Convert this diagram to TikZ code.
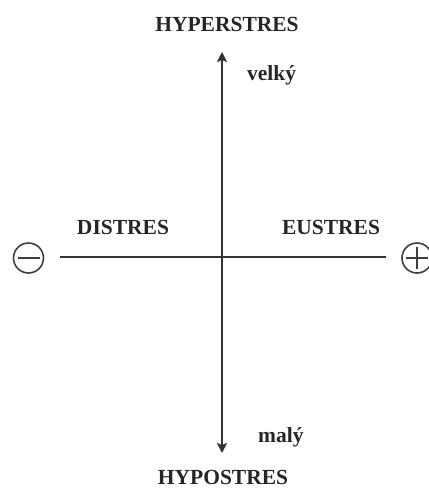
\documentclass[tikz,border=0pt]{standalone}
\usepackage{fontspec}
\setmainfont{Liberation Serif}
\usetikzlibrary{arrows.meta}
\begin{document}
\begin{tikzpicture}[x=1pt,y=-1pt,
  lbl/.style={font=\fontsize{21.5}{24}\selectfont\bfseries, inner sep=0pt, text=black!85},
  axis/.style={draw=black!80, line width=1.6pt},
  tip/.style={-{Stealth[length=10pt,width=10pt,inset=2pt]}},
  sgn/.style={draw=black!75, line width=1.6pt}]
\useasboundingbox (0,0) rectangle (429,488);
\node[lbl] (hyper) at (227,24) {HYPERSTRES};
\node[lbl] (hypo) at (223,477) {HYPOSTRES};
\node[lbl] (dis) at (123,227) {DISTRES};
\node[lbl] (eu) at (331,227) {EUSTRES};
\node[lbl, anchor=base west] (velky) at (247,80) {velký};
\node[lbl, anchor=base west] (maly) at (258,442) {malý};
\coordinate (top) at (222,52);
\coordinate (bot) at (222,453);
\coordinate (left) at (60,257);
\coordinate (right) at (386,257);
\draw[axis, line width=1.4pt, tip] (222,254) -- (top);
\draw[axis, line width=1.4pt, tip] (222,254) -- (bot);
\draw[axis] (left) -- (right);
% minus sign
\node[sgn, circle, minimum size=30pt, inner sep=0pt] (minus) at (28.5,258) {};
\draw[sgn] ([xshift=-11pt]minus.center) -- ([xshift=11pt]minus.center);
% plus sign
\node[sgn, circle, minimum size=30pt, inner sep=0pt] (plus) at (417,258) {};
\draw[sgn] ([xshift=-11pt]plus.center) -- ([xshift=11pt]plus.center);
\draw[sgn] ([yshift=-11pt]plus.center) -- ([yshift=11pt]plus.center);
\end{tikzpicture}
\end{document}
